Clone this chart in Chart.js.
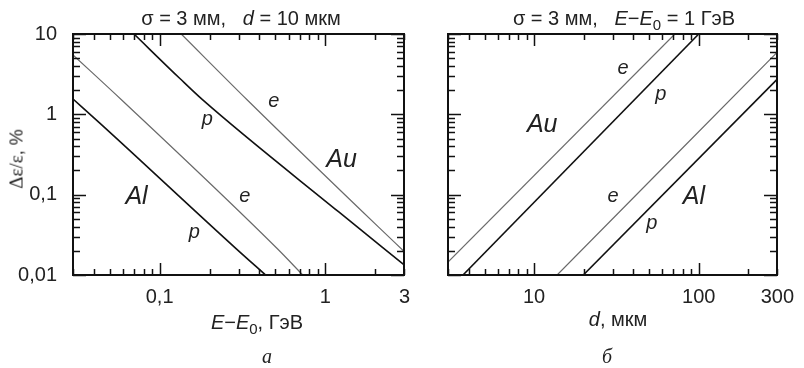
<!DOCTYPE html>
<html lang="ru">
<head>
<meta charset="UTF-8">
<title>Δε/ε vs E−E0 and d</title>
<script src="https://cdn.jsdelivr.net/npm/chart.js"></script>
<style>
  body { margin: 0; background: #fff; width: 804px; height: 368px; position: relative; overflow: hidden;
         font-family: "Liberation Sans", Arial, sans-serif; color: #222; }
  canvas { position: absolute; top: 0; }
  #chartA { left: 0; }
  #chartB { left: 420px; }
  .txt { position: absolute; white-space: nowrap; font-size: 20px; line-height: 1; transform: translate(-50%, -50%); }
  .txt i { font-style: italic; }
  .txt sub { font-size: 15px; vertical-align: -5px; line-height: 0; }
  .ylab { transform: translate(-50%, -50%) rotate(-90deg); font-size: 18px; }
  .serif { font-family: "Liberation Serif", "DejaVu Serif", serif; font-size: 19px; }
  .panel { font-family: "Liberation Serif", serif; font-style: italic; font-size: 20px; }
</style>
</head>
<body>
  <canvas id="chartA" width="420" height="368"></canvas>
  <canvas id="chartB" width="384" height="368"></canvas>

  <!-- titles and axis names (mixed italic / subscript, so plain html) -->
  <div class="txt" style="left:241px; top:18px;">σ = 3 мм,&nbsp;&nbsp; <i>d</i> = 10 мкм</div>
  <div class="txt" style="left:624px; top:18px;">σ = 3 мм,&nbsp;&nbsp; <i>E</i>−<i>E</i><sub>0</sub> = 1 ГэВ</div>
  <div class="txt ylab" style="left:16px; top:159px;"><span class="serif">Δε/ε</span>, %</div>
  <div class="txt" style="left:257px; top:322px;"><i>E</i>−<i>E</i><sub>0</sub>, ГэВ</div>
  <div class="txt" style="left:618px; top:319px;"><i>d</i>, мкм</div>
  <div class="txt panel" style="left:267px; top:356px;">а</div>
  <div class="txt panel" style="left:607px; top:356px;">б</div>

<script>
// ---- panel a: sigma = 3 mm, d = 10 um, x = E-E0 (GeV) ----
const eAlP = [0.03, 0.0437, 0.288, 0.436];
const yAlP = [1.55, 0.773, 0.0215, 0.01];
const eAlE = [0.03, 0.059, 0.51, 0.73];
const yAlE = [5.5, 1.51, 0.0215, 0.01];
const eAuP = [0.07, 0.132, 0.182, 1.2, 3];
const yAuP = [10, 2.81, 1.51, 0.0613, 0.0133];
const eAuE = [0.135, 0.338, 2.08, 3];
const yAuE = [10, 1.51, 0.04, 0.0195];

// ---- panel b: sigma = 3 mm, E-E0 = 1 GeV, x = d (um) ----
const dAuE = [3, 71.6];
const zAuE = [0.0145, 10];
const dAuP = [3.7, 100];
const zAuP = [0.01, 10];
const dAlE = [13.8, 300];
const zAlE = [0.01, 5.96];
const dAlP = [19.9, 300];
const zAlP = [0.01, 2.74];

// tick labels
const yTickVals = [10, 1, 0.1, 0.01];
const yTickText = ['10', '1', '0,1', '0,01'];
const xTickValsA = [0.1, 1, 3];
const xTickTextA = ['0,1', '1', '3'];
const xTickValsB = [10, 100, 300];
const xTickTextB = ['10', '100', '300'];

// curve labels, in data units
const notes = {
  chartA: [
    { text: 'e', x: 0.489, y: 1.44 },
    { text: 'p', x: 0.194, y: 0.86 },
    { text: 'Au', x: 1.254, y: 0.27, big: true },
    { text: 'Al', x: 0.0725, y: 0.0944, big: true },
    { text: 'e', x: 0.326, y: 0.0944 },
    { text: 'p', x: 0.162, y: 0.034 }
  ],
  chartB: [
    { text: 'e', x: 34.7, y: 3.74 },
    { text: 'p', x: 58.9, y: 1.75 },
    { text: 'Au', x: 11.2, y: 0.736, big: true },
    { text: 'e', x: 30.2, y: 0.0944 },
    { text: 'Al', x: 93.5, y: 0.0944, big: true },
    { text: 'p', x: 51.8, y: 0.044 }
  ]
};

const pts = (xs, ys) => xs.map((x, i) => ({ x: x, y: ys[i] }));

// 1..9 x 10^n between lo and hi
function logTicks(lo, hi) {
  const out = [];
  const e0 = Math.floor(Math.log10(lo) + 1e-9);
  const e1 = Math.ceil(Math.log10(hi) - 1e-9);
  for (let e = e0; e <= e1; e++) {
    for (let m = 1; m < 10; m++) {
      const v = m * Math.pow(10, e);
      if (v >= lo * 0.999 && v <= hi * 1.001) out.push(v);
    }
  }
  return out;
}

// minor/major tick values for each panel, filled in makeChart
const tickSets = {};

const isDecade = v => Math.abs(Math.log10(v) - Math.round(Math.log10(v))) < 1e-6;

function labeler(vals, text) {
  return v => {
    const i = vals.findIndex(t => Math.abs(Math.log10(t) - Math.log10(v)) < 1e-6);
    return i >= 0 ? text[i] : '';
  };
}

// box, inward ticks on all four sides, curve labels
const framePlugin = {
  id: 'frame',
  afterDraw(chart) {
    const ctx = chart.ctx;
    const a = chart.chartArea;
    const sx = chart.scales.x, sy = chart.scales.y;
    const L = Math.round(a.left), R = Math.round(a.right), T = Math.round(a.top), B = Math.round(a.bottom);
    const set = tickSets[chart.canvas.id] || { x: [], y: [] };
    ctx.save();
    ctx.globalAlpha = 1;
    ctx.globalCompositeOperation = 'source-over';
    ctx.fillStyle = '#111';

    set.x.forEach(v => {
      const p = Math.round(sx.getPixelForValue(v));
      const len = isDecade(v) ? 12 : 6;
      ctx.fillRect(p - 0.25, B - len, 1.5, len);
      ctx.fillRect(p - 0.25, T, 1.5, len);
    });
    set.y.forEach(v => {
      const p = Math.round(sy.getPixelForValue(v));
      const len = isDecade(v) ? 13 : 7;
      ctx.fillRect(L, p - 0.25, len, 1.5);
      ctx.fillRect(R - len, p - 0.25, len, 1.5);
    });
    // frame, 2px
    ctx.fillRect(L - 1, T - 1, R - L + 2, 2);
    ctx.fillRect(L - 1, B - 1, R - L + 2, 2);
    ctx.fillRect(L - 1, T - 1, 2, B - T + 2);
    ctx.fillRect(R - 1, T - 1, 2, B - T + 2);

    ctx.fillStyle = '#222';
    ctx.textAlign = 'center';
    ctx.textBaseline = 'middle';
    (notes[chart.canvas.id] || []).forEach(n => {
      ctx.font = n.big ? 'italic 25px "Liberation Sans", Arial' : 'italic 20px "Liberation Sans", Arial';
      ctx.fillText(n.text, sx.getPixelForValue(n.x), sy.getPixelForValue(n.y));
    });
    ctx.restore();
  }
};

function line(data, dark) {
  return {
    data: data,
    borderColor: dark ? '#111' : '#6a6a6a',
    borderWidth: dark ? 1.6 : 1.2,
    pointRadius: 0,
    fill: false,
    cubicInterpolationMode: 'monotone'
  };
}

function makeChart(id, datasets, xMin, xMax, xVals, xText, yWidth, padRight, showY) {
  tickSets[id] = { x: logTicks(xMin, xMax), y: logTicks(0.01, 10) };
  return new Chart(document.getElementById(id), {
    type: 'line',
    data: { datasets: datasets },
    plugins: [framePlugin],
    options: {
      responsive: false,
      animation: false,
      devicePixelRatio: 1,
      layout: { padding: { left: 0, right: padRight, top: 34, bottom: 0 } },
      plugins: { legend: { display: false }, tooltip: { enabled: false } },
      scales: {
        x: {
          type: 'logarithmic',
          min: xMin, max: xMax,
          grid: { display: false, drawTicks: false },
          border: { display: false },
          afterBuildTicks: s => { s.ticks = xVals.map(v => ({ value: v })); },
          afterFit: s => { s.height = 93; },
          ticks: {
            autoSkip: false, maxRotation: 0, padding: 10, color: '#222',
            font: { family: '"Liberation Sans", Arial', size: 20 },
            callback: labeler(xVals, xText)
          }
        },
        y: {
          type: 'logarithmic',
          min: 0.01, max: 10,
          grid: { display: false, drawTicks: false },
          border: { display: false },
          afterBuildTicks: s => { s.ticks = yTickVals.map(v => ({ value: v })); },
          afterFit: s => { s.width = yWidth; },
          ticks: {
            display: showY,
            autoSkip: false, padding: 16, color: '#222',
            font: { family: '"Liberation Sans", Arial', size: 20 },
            callback: labeler(yTickVals, yTickText)
          }
        }
      }
    }
  });
}

makeChart('chartA', [
  line(pts(eAlP, yAlP), true),
  line(pts(eAlE, yAlE), false),
  line(pts(eAuP, yAuP), true),
  line(pts(eAuE, yAuE), false)
], 0.03, 3, xTickValsA, xTickTextA, 73, 14, true);

makeChart('chartB', [
  line(pts(dAuE, zAuE), false),
  line(pts(dAuP, zAuP), true),
  line(pts(dAlE, zAlE), false),
  line(pts(dAlP, zAlP), true)
], 3, 300, xTickValsB, xTickTextB, 28, 23, false);
</script>
</body>
</html>
